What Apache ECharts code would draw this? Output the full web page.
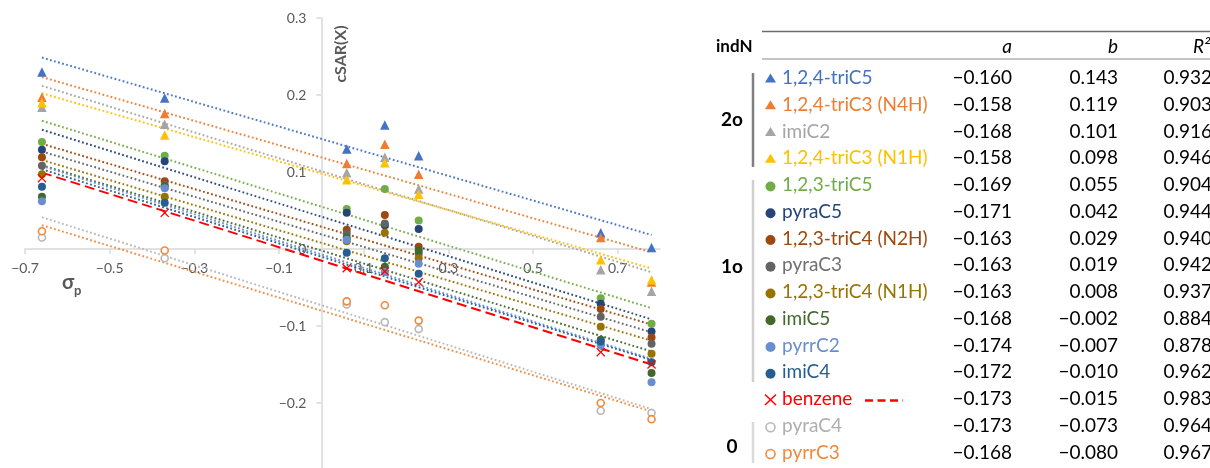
<!DOCTYPE html>
<html><head><meta charset="utf-8">
<script src="https://cdn.jsdelivr.net/npm/echarts@6/dist/echarts.min.js"></script>
<style>html,body{margin:0;padding:0;background:#fff}#c{width:1210px;height:468px}</style>
</head><body><div id="c"></div><script>
// ---- data ----
const sigmaP = [-0.66, -0.37, 0.06, 0.15, 0.23, 0.66, 0.78];
const xTickLabels = [-0.7, -0.5, -0.3, -0.1, 0.1, 0.3, 0.5, 0.7];
const yTickLabels = [-0.2, -0.1, 0, 0.1, 0.2, 0.3];

const seriesNames = ['1,2,4-triC5', '1,2,4-triC3 (N4H)', 'imiC2', '1,2,4-triC3 (N1H)',
  '1,2,3-triC5', 'pyraC5', '1,2,3-triC4 (N2H)', 'pyraC3', '1,2,3-triC4 (N1H)',
  'imiC5', 'pyrrC2', 'imiC4', 'benzene', 'pyraC4', 'pyrrC3'];
const groupIndN = ['2o', '1o', '0'];

const v_tri124C5   = [0.230, 0.196, 0.130, 0.161, 0.121, 0.021, 0.002];
const v_tri124C3N4 = [0.197, 0.176, 0.111, 0.136, 0.097, 0.015, -0.043];
const v_imiC2      = [0.184, 0.162, 0.099, 0.119, 0.078, -0.027, -0.055];
const v_tri124C3N1 = [0.190, 0.148, 0.090, 0.112, 0.071, -0.014, -0.040];
const v_tri123C5   = [0.139, 0.121, 0.052, 0.078, 0.037, -0.064, -0.097];
const v_pyraC5     = [0.129, 0.114, 0.047, 0.031, 0.026, -0.071, -0.107];
const v_tri123C4N2 = [0.119, 0.088, 0.025, 0.044, 0.003, -0.078, -0.115];
const v_pyraC3     = [0.108, 0.083, 0.020, 0.033, -0.006, -0.088, -0.123];
const v_tri123C4N1 = [0.097, 0.068, 0.010, 0.021, -0.012, -0.101, -0.136];
const v_imiC5      = [0.068, 0.081, 0.015, -0.023, -0.002, -0.118, -0.161];
const v_pyrrC2     = [0.062, 0.079, 0.012, -0.030, -0.019, -0.125, -0.173];
const v_imiC4      = [0.081, 0.060, -0.005, -0.012, -0.032, -0.120, -0.147];
const v_benzene    = [0.092, 0.047, -0.025, -0.029, -0.043, -0.134, -0.150];
const v_pyraC4     = [0.015, -0.012, -0.072, -0.095, -0.104, -0.210, -0.213];
const v_pyrrC3     = [0.023, -0.002, -0.068, -0.073, -0.093, -0.200, -0.221];

const coefA = [-0.160, -0.158, -0.168, -0.158, -0.169, -0.171, -0.163, -0.163, -0.163, -0.168, -0.174, -0.172, -0.173, -0.173, -0.168];
const coefB = [0.143, 0.119, 0.101, 0.098, 0.055, 0.042, 0.029, 0.019, 0.008, -0.002, -0.007, -0.010, -0.015, -0.073, -0.080];
const coefR2 = [0.932, 0.903, 0.916, 0.946, 0.904, 0.944, 0.940, 0.942, 0.937, 0.884, 0.878, 0.962, 0.983, 0.964, 0.967];

// ---- styles ----
const seriesValues = [v_tri124C5, v_tri124C3N4, v_imiC2, v_tri124C3N1, v_tri123C5, v_pyraC5,
  v_tri123C4N2, v_pyraC3, v_tri123C4N1, v_imiC5, v_pyrrC2, v_imiC4, v_benzene, v_pyraC4, v_pyrrC3];
const colors = ['#4472C4', '#ED7D31', '#A5A5A5', '#FFC000', '#70AD47', '#264478', '#9E480E',
  '#636363', '#997300', '#43682B', '#698ED0', '#255E91', '#FF0000', '#B7B7B7', '#F08A3C'];
const textColors = ['#4472C4', '#ED7D31', '#A5A5A5', '#FFC000', '#70AD47', '#264478', '#9E480E',
  '#707070', '#997300', '#43682B', '#698ED0', '#255E91', '#FF0000', '#AFAFAF', '#F08A3C'];
const kinds = ['tri', 'tri', 'tri', 'tri', 'dot', 'dot', 'dot', 'dot', 'dot', 'dot', 'dot', 'dot', 'x', 'ring', 'ring'];
const FONT = 'Lato, "Open Sans", sans-serif';
const xPath = 'path://M1,0 L5,4 L9,0 L10,1 L6,5 L10,9 L9,10 L5,6 L1,10 L0,9 L4,5 L0,1 Z';

const fmtAxis = v => {
  if (Math.abs(v) < 1e-9) return '0';
  return (v < 0 ? '\u2212' : '') + Math.abs(v).toFixed(1);
};
const fmt3 = v => (v < 0 ? '\u2212' : '') + Math.abs(v).toFixed(3);

const series = [];
// trend lines
seriesNames.forEach((n, i) => {
  const x0 = sigmaP[0], x1 = sigmaP[sigmaP.length - 1];
  const isBz = kinds[i] === 'x';
  series.push({
    type: 'line', name: n + ' trend', silent: true, symbol: 'none', z: 2,
    data: [[x0, coefA[i] * x0 + coefB[i]], [x1, coefA[i] * x1 + coefB[i]]],
    lineStyle: isBz ? { color: colors[i], width: 2, type: [10, 5] }
                    : { color: colors[i], width: 2, type: [1.8, 2.4], opacity: 0.95 }
  });
});
// points
seriesNames.forEach((n, i) => {
  const k = kinds[i];
  const s = {
    type: 'scatter', name: n, z: 5,
    data: sigmaP.map((x, j) => [x, seriesValues[i][j]]),
    itemStyle: { color: colors[i], opacity: 1 }
  };
  if (k === 'tri') { s.symbol = 'triangle'; s.symbolSize = 9.5; }
  else if (k === 'dot') { s.symbol = 'circle'; s.symbolSize = 8; }
  else if (k === 'ring') { s.symbol = 'circle'; s.symbolSize = 7;
    s.itemStyle = { color: '#ffffff', borderColor: colors[i], borderWidth: 1.6, opacity: 1 }; }
  else { s.symbol = xPath; s.symbolSize = 9; }
  series.push(s);
});

// ---- table (graphic) ----
const g = [];
const rowY0 = 78, rowStep = 26.75;
g.push({ type: 'line', shape: { x1: 762, y1: 31.5, x2: 1210, y2: 31.5 }, style: { stroke: '#6b6b6b', lineWidth: 1.5 } });
g.push({ type: 'line', shape: { x1: 762, y1: 59, x2: 1210, y2: 59 }, style: { stroke: '#8a8a8a', lineWidth: 1 } });
g.push({ type: 'text', x: 716, y: 47, style: { text: 'indN', font: 'bold 17px ' + FONT, fill: '#000', verticalAlign: 'middle' } });
g.push({ type: 'text', x: 1012, y: 47, style: { text: 'a', font: 'italic 19px ' + FONT, fill: '#000', align: 'right', verticalAlign: 'middle' } });
g.push({ type: 'text', x: 1118, y: 47, style: { text: 'b', font: 'italic 19px ' + FONT, fill: '#000', align: 'right', verticalAlign: 'middle' } });
g.push({ type: 'text', x: 1193, y: 47, style: { text: 'R\u00B2', font: 'italic 19px ' + FONT, fill: '#000', verticalAlign: 'middle' } });
// group labels and bars
g.push({ type: 'text', x: 732, y: 120, style: { text: groupIndN[0], font: 'bold 19px ' + FONT, fill: '#000', align: 'center', verticalAlign: 'middle' } });
g.push({ type: 'text', x: 732, y: 267, style: { text: groupIndN[1], font: 'bold 19px ' + FONT, fill: '#000', align: 'center', verticalAlign: 'middle' } });
g.push({ type: 'text', x: 732, y: 447, style: { text: groupIndN[2], font: 'bold 19px ' + FONT, fill: '#000', align: 'center', verticalAlign: 'middle' } });
g.push({ type: 'line', shape: { x1: 753, y1: 73, x2: 753, y2: 167 }, style: { stroke: '#7f7f7f', lineWidth: 2.5 } });
g.push({ type: 'line', shape: { x1: 753, y1: 180, x2: 753, y2: 382 }, style: { stroke: '#d0d0d0', lineWidth: 2.5 } });
g.push({ type: 'line', shape: { x1: 753, y1: 422, x2: 753, y2: 463 }, style: { stroke: '#dadada', lineWidth: 2.5 } });

seriesNames.forEach((n, i) => {
  const y = rowY0 + i * rowStep;
  const k = kinds[i];
  if (k === 'tri') g.push({ type: 'polygon', shape: { points: [[770.5, y - 4.5], [776, y + 4.5], [765, y + 4.5]] }, style: { fill: colors[i] } });
  else if (k === 'dot') g.push({ type: 'circle', shape: { cx: 770.5, cy: y + 1.5, r: 5 }, style: { fill: colors[i] } });
  else if (k === 'ring') g.push({ type: 'circle', shape: { cx: 770.5, cy: y + 1.5, r: 4.5 }, style: { fill: 'none', stroke: colors[i], lineWidth: 1.6 } });
  else {
    g.push({ type: 'line', shape: { x1: 765, y1: y - 4.5, x2: 776, y2: y + 6 }, style: { stroke: colors[i], lineWidth: 1.5 } });
    g.push({ type: 'line', shape: { x1: 776, y1: y - 4.5, x2: 765, y2: y + 6 }, style: { stroke: colors[i], lineWidth: 1.5 } });
    g.push({ type: 'line', shape: { x1: 865, y1: y + 1.5, x2: 903, y2: y + 1.5 }, style: { stroke: colors[i], lineWidth: 2.5, lineDash: [8, 4.5] } });
  }
  g.push({ type: 'text', x: 782, y: y, style: { text: n, font: '19px ' + FONT, fill: textColors[i], verticalAlign: 'middle' } });
  g.push({ type: 'text', x: 1012, y: y, style: { text: fmt3(coefA[i]), font: '19px ' + FONT, fill: '#000', align: 'right', verticalAlign: 'middle' } });
  g.push({ type: 'text', x: 1118, y: y, style: { text: fmt3(coefB[i]), font: '19px ' + FONT, fill: '#000', align: 'right', verticalAlign: 'middle' } });
  g.push({ type: 'text', x: 1212, y: y, style: { text: fmt3(coefR2[i]), font: '19px ' + FONT, fill: '#000', align: 'right', verticalAlign: 'middle' } });
});
// axis names
g.push({ type: 'text', x: 341, y: 54, rotation: Math.PI / 2, style: { text: 'cSAR(X)', font: 'bold 16px ' + FONT, fill: '#595959', align: 'center', verticalAlign: 'middle' } });
g.push({ type: 'text', x: 62, y: 283, style: { text: '\u03C3', font: 'bold 20px ' + FONT, fill: '#595959', verticalAlign: 'middle' } });
g.push({ type: 'text', x: 74, y: 291, style: { text: 'p', font: 'bold 13px ' + FONT, fill: '#595959', verticalAlign: 'middle' } });

const axisCol = '#d9d9d9';
// grid: x -0.7..0.8 over 635px (0 at ~321), y -0.3..0.3 over 462px (0 at 249)
const GL = 25, GT = 18, GW = 635, GH = 462;
const option = {
  animation: false,
  backgroundColor: '#fff',
  grid: { left: GL, top: GT, width: GW, height: GH, containLabel: false, outerBoundsMode: 'none' },
  xAxis: {
    type: 'value', min: -0.7, max: 0.8, interval: 0.2, position: 'bottom',
    offset: -GH / 2,
    axisLine: { onZero: false, lineStyle: { color: axisCol, width: 1.5 } },
    axisTick: { show: true, length: 5, customValues: xTickLabels, lineStyle: { color: axisCol, width: 1.5 } },
    axisLabel: { customValues: xTickLabels, formatter: fmtAxis, color: '#595959', fontSize: 14, fontFamily: FONT, margin: 12 },
    splitLine: { show: false }
  },
  yAxis: {
    type: 'value', min: -0.3, max: 0.3, interval: 0.1, position: 'left',
    offset: -GW * 0.7 / 1.5,
    axisLine: { show: true, onZero: false, lineStyle: { color: axisCol, width: 1.5 } },
    axisTick: { show: true, length: 5, customValues: yTickLabels, lineStyle: { color: axisCol, width: 1.5 } },
    axisLabel: { customValues: yTickLabels, formatter: fmtAxis, color: '#595959', fontSize: 14, fontFamily: FONT, margin: 15 },
    splitLine: { show: false }
  },
  series: series,
  graphic: g
};
const chart = echarts.init(document.getElementById('c'), null, { renderer: 'canvas' });
chart.setOption(option);
</script></body></html>
